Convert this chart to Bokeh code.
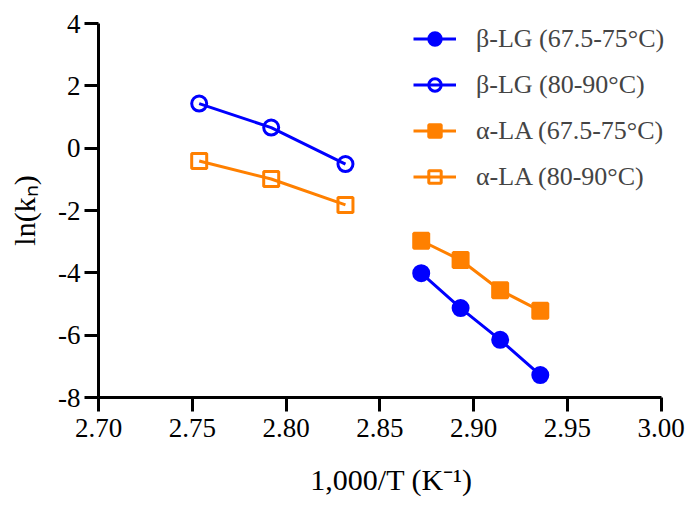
from bokeh.plotting import figure
from bokeh.models import (ColumnDataSource, FixedTicker, PrintfTickFormatter, Legend,
                          LegendItem, Range1d)
from bokeh.embed import file_html
from bokeh.resources import INLINE

# ---- data ----
x_low = [2.8721, 2.8931, 2.9142, 2.9356]      # 1000/T for 75, 72.5, 70, 67.5 °C
x_high = [2.7537, 2.7921, 2.8317]             # 1000/T for 90, 85, 80 °C

blg_low = [-4.01, -5.13, -6.15, -7.28]
blg_high = [1.43, 0.66, -0.51]
ala_low = [-2.97, -3.59, -4.56, -5.22]
ala_high = [-0.41, -0.99, -1.82]

series_labels = ["β-LG (67.5-75°C)", "β-LG (80-90°C)", "α-LA (67.5-75°C)", "α-LA (80-90°C)"]
x_ticks = [2.70, 2.75, 2.80, 2.85, 2.90, 2.95, 3.00]
y_ticks = [-8, -6, -4, -2, 0, 2, 4]
x_title = "1,000/T (K⁻¹)"
y_title = "ln(kₙ)"

BLUE = "#0000FF"
ORANGE = "#FF8000"
FONT = "Liberation Serif"

# x range runs a little past 3.00 so the legend text has room; the axis itself stops at 3.00
p = figure(width=686, height=506, output_backend="svg", toolbar_location=None,
           x_range=Range1d(2.70, 3.0125), y_range=Range1d(-8, 4),
           min_border_left=98, min_border_right=2, min_border_top=23, min_border_bottom=109)
p.outline_line_color = None
p.xgrid.visible = False
p.ygrid.visible = False
p.background_fill_color = "white"
p.border_fill_color = "white"

for ax in (p.xaxis[0], p.yaxis[0]):
    ax.axis_line_width = 3
    ax.major_tick_line_width = 3
    ax.major_tick_out = 14
    ax.major_tick_in = 0
    ax.minor_tick_out = 0
    ax.minor_tick_in = 0
    ax.major_label_text_font = FONT
    ax.major_label_text_font_size = "27px"
    ax.major_label_text_color = "black"
    ax.axis_line_color = "black"
    ax.major_tick_line_color = "black"
    ax.axis_label_text_font = FONT
    ax.axis_label_text_font_size = "30px"
    ax.axis_label_text_font_style = "normal"
    ax.axis_label_text_color = "black"

p.xaxis.bounds = (x_ticks[0], x_ticks[-1])
p.xaxis.ticker = FixedTicker(ticks=x_ticks)
p.yaxis.ticker = FixedTicker(ticks=y_ticks)
p.xaxis.formatter = PrintfTickFormatter(format="%.2f")
p.yaxis.formatter = PrintfTickFormatter(format="%d")
p.xaxis.major_label_standoff = 7
p.yaxis.major_label_standoff = 4
p.xaxis.axis_label = x_title
p.yaxis.axis_label = y_title
p.xaxis.axis_label_standoff = 23
p.yaxis.axis_label_standoff = 14

def series(xs, ys, color, marker, filled):
    src = ColumnDataSource(dict(x=xs, y=ys))
    l = p.line("x", "y", source=src, line_color=color, line_width=3)
    s = p.scatter("x", "y", source=src, marker=marker, size=15,
                  line_color=color, line_width=3,
                  fill_color=color if filled else None)
    return [l, s]

r1 = series(x_low, blg_low, BLUE, "circle", True)
r2 = series(x_high, blg_high, BLUE, "circle", False)
r3 = series(x_low, ala_low, ORANGE, "square", True)
r4 = series(x_high, ala_high, ORANGE, "square", False)

legend = Legend(items=[LegendItem(label=series_labels[0], renderers=r1),
                       LegendItem(label=series_labels[1], renderers=r2),
                       LegendItem(label=series_labels[2], renderers=r3),
                       LegendItem(label=series_labels[3], renderers=r4)],
                location=(315, 205), padding=0, margin=0, spacing=15,
                glyph_width=43, glyph_height=31, label_height=31, label_standoff=20,
                label_text_font=FONT, label_text_font_size="26px",
                border_line_color=None, background_fill_alpha=0)
p.add_layout(legend)

open("out.html", "w").write(file_html(p, INLINE))
